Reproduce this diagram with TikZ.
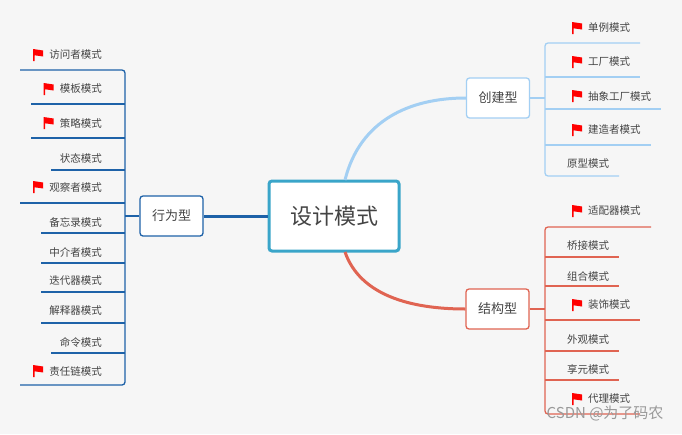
\documentclass[tikz,border=0pt]{standalone}
\usepackage{fontspec}
\setmainfont{Noto Sans CJK SC}
\usepackage{tikz}
\definecolor{bgc}{HTML}{F6F6F6}
\definecolor{hubc}{HTML}{3AA5C9}
\definecolor{behc}{HTML}{1E62A8}
\definecolor{crec}{HTML}{A3CFF3}
\definecolor{strc}{HTML}{E06452}
\definecolor{txtc}{HTML}{444444}
\tikzset{
  box/.style={draw=#1, fill=white, rounded corners=3pt, line width=1.3pt,
    minimum width=63pt, minimum height=40pt, font=\fontsize{13}{15}\selectfont, text=txtc},
  leaf/.style={font=\fontsize{10.5}{12}\selectfont, text=txtc, inner sep=1pt},
  branch/.style={draw=#1, line width=1.3pt, rounded corners=3pt},
}
\newcommand\redflag[1]{%
  \fill[red] ($(#1)+(-5,6)$) -- ++(0,-12) -- ++(10,1.5) -- ++(0,6) -- ++(-8.5,-1.2) -- ++(0,5.7) -- cycle;}
\usetikzlibrary{calc}
\begin{document}
\begin{tikzpicture}[x=1pt,y=-1pt]
  \fill[bgc] (0,0) rectangle (682,434);
  \useasboundingbox (0,0) rectangle (682,434);

  % hub and main branches
  \node[box=hubc, line width=3pt, minimum width=130pt, minimum height=70pt,
    font=\fontsize{22}{26}\selectfont] (hub) at (334,216) {设计模式};
  \node[box=behc] (beh) at (171.5,216) {行为型};
  \node[box=crec] (cre) at (498,98) {创建型};
  \node[box=strc] (str) at (497.5,309) {结构型};

  \draw[behc, line width=3pt] (hub.west) -- (beh.east);
  \draw[crec, line width=3pt] (345,180) .. controls (360,120) and (410,98) .. (cre.west);
  \draw[strc, line width=3pt] (345,252) .. controls (360,295) and (410,309) .. (str.west);

  % behaviour: spine at x=125
  \draw[branch=behc] (20,70) -- (125,70) -- (125,385) -- (20,385);
  \draw[behc, line width=1.3pt] (beh.west) -- (125,216);
  \foreach \ly/\lx in {104/31, 138/31, 170/51, 203/20, 233/41,
      263/41, 292/41, 323/41, 353/51} {
    \draw[behc, line width=1.3pt] (\lx,\ly) -- (125,\ly);
  }
  \foreach \name/\ty/\txt/\fl in {
      v1/55/访问者模式/1, v2/89/模板模式/1, v3/123/策略模式/1, v4/158/状态模式/0,
      v5/187/观察者模式/1, v6/222/备忘录模式/0, v7/252/中介者模式/0, v8/281/迭代器模式/0,
      v9/311/解释器模式/0, v10/342/命令模式/0, v11/371/责任链模式/1} {
    \node[leaf, anchor=east] (\name) at (103,\ty) {\txt};
    \ifnum\fl=1 \redflag{$(\name.west)+(-10,0)$} \fi
  }

  % creational: spine at x=545
  \draw[branch=crec] (640,43) -- (545,43) -- (545,176) -- (619,176);
  \draw[crec, line width=1.3pt] (cre.east) -- (545,98);
  \foreach \ly/\rx in {77/640, 109/661, 145/651} {
    \draw[crec, line width=1.3pt] (545,\ly) -- (\rx,\ly);
  }
  \foreach \name/\ty/\txt/\fl in {
      c1/28/单例模式/1, c2/62/工厂模式/1, c3/96/抽象工厂模式/1,
      c4/130/建造者模式/1, c5/164/原型模式/0} {
    \ifnum\fl=1
      \node[leaf, anchor=west] (\name) at (587,\ty) {\txt};
      \redflag{$(\name.west)+(-10,0)$}
    \else
      \node[leaf, anchor=west] (\name) at (566,\ty) {\txt};
    \fi
  }

  % structural: spine at x=545
  \draw[branch=strc] (651,227) -- (545,227) -- (545,414) -- (640,414);
  \draw[strc, line width=1.3pt] (str.east) -- (545,309);
  \foreach \ly/\rx in {257/619, 286/619, 320/640, 351/619, 380/619} {
    \draw[strc, line width=1.3pt] (545,\ly) -- (\rx,\ly);
  }
  \foreach \name/\ty/\txt/\fl in {
      s1/211/适配器模式/1, s2/246/桥接模式/0, s3/276/组合模式/0, s4/305/装饰模式/1,
      s5/340/外观模式/0, s6/369/享元模式/0, s7/399/代理模式/1} {
    \ifnum\fl=1
      \node[leaf, anchor=west] (\name) at (587,\ty) {\txt};
      \redflag{$(\name.west)+(-10,0)$}
    \else
      \node[leaf, anchor=west] (\name) at (566,\ty) {\txt};
    \fi
  }

  % watermark
  \node[font=\fontsize{15}{17}\selectfont, text=gray!80, anchor=east] (wm) at (667,413) {CSDN @为了码农};
\end{tikzpicture}
\end{document}
